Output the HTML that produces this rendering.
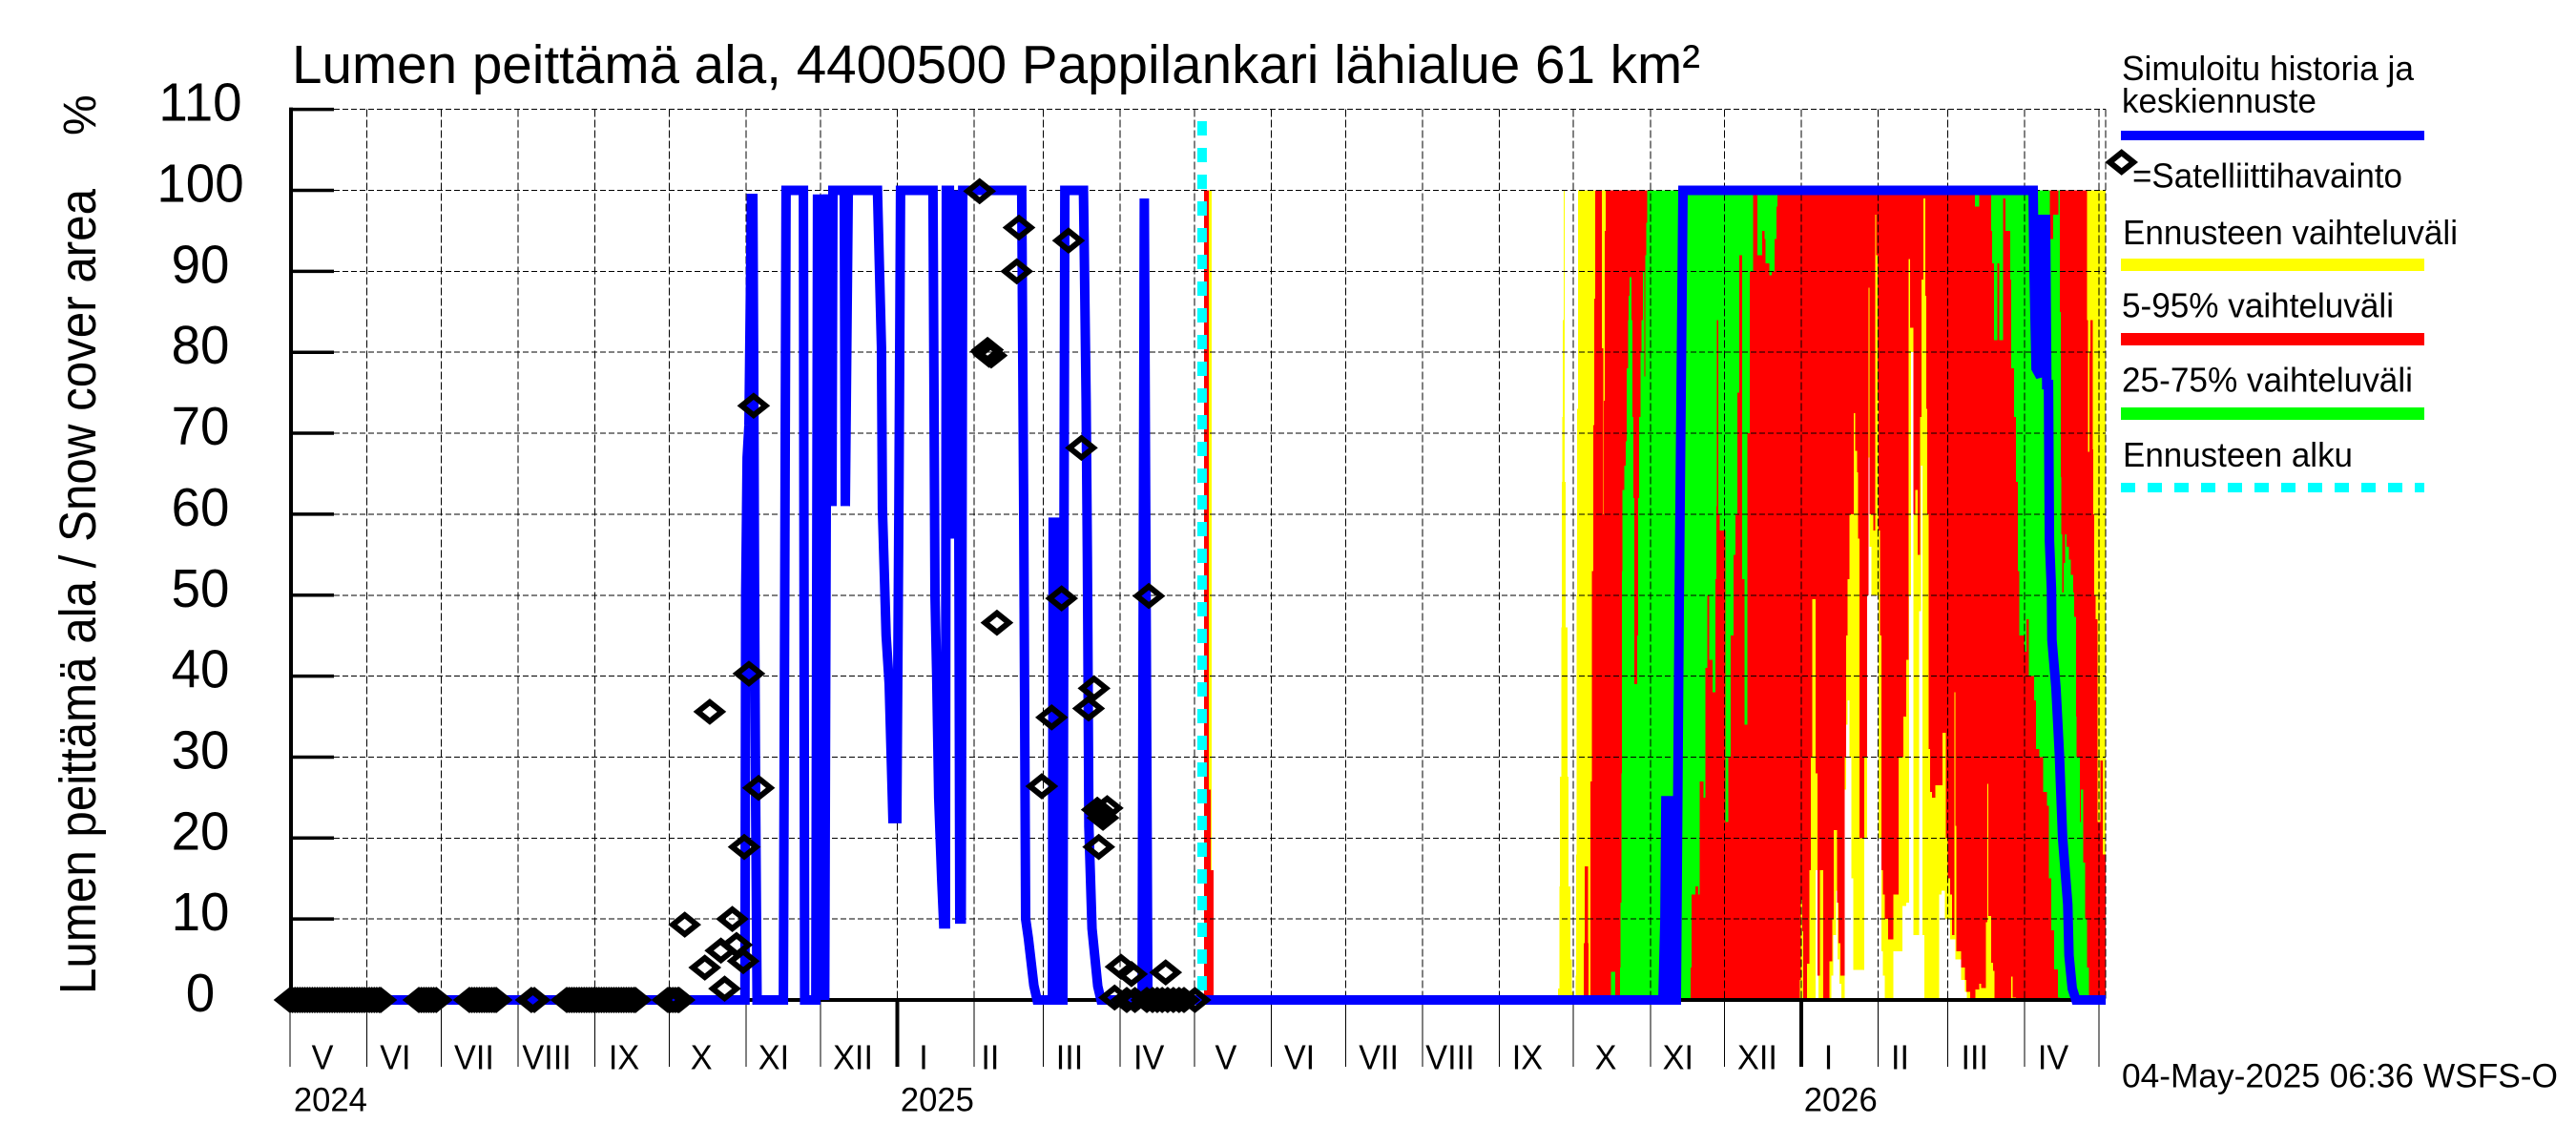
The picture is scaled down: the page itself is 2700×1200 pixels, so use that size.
<!DOCTYPE html>
<html>
<head>
<meta charset="utf-8">
<title>Lumen peittämä ala</title>
<style>
html,body{margin:0;padding:0;background:#fff}
svg{display:block}
text{font-family:"Liberation Sans",Arial,sans-serif;fill:#000}
</style>
</head>
<body>
<svg id="chart" xmlns="http://www.w3.org/2000/svg" width="2700" height="1200" viewBox="0 0 2700 1200">
<rect width="2700" height="1200" fill="#fff"/>
<g id="bands" shape-rendering="crispEdges"></g>
<g id="axes"></g>
<g id="series"></g>
<text x="306" y="87" font-size="57" textLength="1476" lengthAdjust="spacingAndGlyphs">Lumen peittämä ala, 4400500 Pappilankari lähialue 61 km²</text>
<text transform="translate(100,1042) rotate(-90)" font-size="54" textLength="844" lengthAdjust="spacingAndGlyphs">Lumen peittämä ala / Snow cover area</text>
<text transform="translate(100,142) rotate(-90)" font-size="48">%</text>
<g>
<text x="2224" y="84" font-size="36" textLength="306" lengthAdjust="spacingAndGlyphs">Simuloitu historia ja</text>
<text x="2224" y="118" font-size="36" textLength="204" lengthAdjust="spacingAndGlyphs">keskiennuste</text>
<rect x="2223" y="137" width="318" height="10" fill="#0000ff"/>
<polygon points="2223.7,160 2236.2,170 2223.7,180 2211.2,170" fill="none" stroke="#000" stroke-width="6"/>
<text x="2235" y="196.5" font-size="36" textLength="283" lengthAdjust="spacingAndGlyphs">=Satelliittihavainto</text>
<text x="2225" y="256" font-size="36" textLength="351" lengthAdjust="spacingAndGlyphs">Ennusteen vaihteluväli</text>
<rect x="2223" y="271" width="318" height="13" fill="#ffff00"/>
<text x="2224" y="332.5" font-size="36" textLength="285" lengthAdjust="spacingAndGlyphs">5-95% vaihteluväli</text>
<rect x="2223" y="349" width="318" height="13" fill="#ff0000"/>
<text x="2224" y="410.5" font-size="36" textLength="305" lengthAdjust="spacingAndGlyphs">25-75% vaihteluväli</text>
<rect x="2223" y="427" width="318" height="13" fill="#00ff00"/>
<text x="2225" y="489" font-size="36" textLength="241" lengthAdjust="spacingAndGlyphs">Ennusteen alku</text>
<line x1="2223" y1="511" x2="2541" y2="511" stroke="#00ffff" stroke-width="10" stroke-dasharray="15 13"/>
</g>
<text x="2224" y="1139.5" font-size="35.5" textLength="457" lengthAdjust="spacingAndGlyphs">04-May-2025 06:36 WSFS-O</text>
</svg>
<script>
// ---- axis data ----
const yTicks = [0,10,20,30,40,50,60,70,80,90,100,110];
const monthStartDays = [0,31,61,92,123,153,184,214,245,276,304,335,365,396,426,457,488,518,549,579,610,641,669,700,730];
const yearStartDays = [245,610];
const monthLabels = ["V","VI","VII","VIII","IX","X","XI","XII","I","II","III","IV","V","VI","VII","VIII","IX","X","XI","XII","I","II","III","IV"];
const monthLabelDays = [13.1,42.5,74.3,103.6,134.8,166,195.2,227.2,255.7,282.6,314.6,346.6,377.7,407.4,439.4,468.2,499.4,531,560.2,592.2,620.9,649.8,679.9,711.6];
const yearLabels = ["2024","2025","2026"];
const yearLabelDays = [1.5,246.4,611];
const forecastStartDay = 368.1;

// ---- simulated history and forecast mean ----
const meanDays = [0,183.6,183.9,184.5,185.2,186.2,186.8,187.1,187.5,187.9,188.5,199.1,200.2,207.2,207.7,212.2,212.9,213.5,214.1,214.7,215.3,215.8,216.4,216.8,217.6,217.9,218.7,219.1,223.7,224.1,225.3,237.1,238.7,239.1,240.6,241.8,243.3,244.9,245.7,246.4,259.5,260.3,261,261.8,263,263.8,264.5,264.9,266.1,267.6,269.5,270,270.3,270.9,271.5,295.3,296.1,296.9,298,300.2,301.5,307.7,308,308.8,309.6,311.9,312.7,320.2,320.5,321.3,321.8,322,322.4,323.7,326,327.3,343.9,344.8,346.2,553,554.1,554.9,555.3,557.2,557.6,559.5,560.7,562.2,703.5,703.9,704.7,706.5,706.5,708.5,709,709.7,709.9,710.1,710.9,711.1,712.7,714.1,715.4,717.5,718,719.3,720.8,732.8];
const meanValues = [0,0,50,67,71,99,99,80,50,25,0,0,100,100,0,0,99.5,0,99.5,0,99.5,0,61,99.5,61,99.5,61,100,100,61,100,100,80.6,60.7,45,39,22.4,22.4,60,100,100,50,40,25,15,9.4,9.4,100,100,57,100,50,10,10,100,100,60,10,7.6,1.8,0,0,59,59,0,0,100,100,94,74,54.8,45,21.4,8.8,1.7,0,0,99,0,0,0,10,24.6,24.6,0,0,50,100,100,90,78,77,96.4,96.4,76,76,65.4,56.7,50.8,44.5,38.6,30.4,20,11.8,5.5,1.4,0,0];

// ---- satellite observations ----
const zeroObsDays = [0,1,2,3,4,5,6,7,8,9,10,11,12,13,14,15,16,17,18,19,20,21,22,23,24,25,26,27,28,29,30,31,32,33,34,35,36,36.6,52,53,54,55,56,57,58,59,72.4,73.4,74.4,75.4,76.4,77.4,78.4,79.4,80.4,81.4,82.4,83.2,97.4,98.6,111.7,112.7,113.7,114.7,115.7,116.7,117.7,118.7,119.7,120.7,121.7,122.7,123.7,124.7,125.7,126.7,127.7,128.7,129.7,130.7,131.7,132.7,133.7,134.7,135.7,136.7,137.7,138.7,139.4,152.5,153.5,154.5,155.5,156.5,157];
const obsDays = [159.3,169.4,167.4,173.9,175.4,178.5,180.2,182.9,183.3,185.2,189.1,187.1,278.3,294.2,314.2,293.3,281,281.5,282.1,283,319.4,346.6,311.4,285.3,324.5,322.3,307.4,303.4,329.8,325.8,327.3,328.1,326.4,335.4,339.6,353.4,332.8,337.7,341,345.8,348.1,350,352,354.2,356.5,358.8,360.8,365.2];
const obsValues = [9.3,35.6,4,6.1,1.4,10,6.8,4.8,18.9,40.3,26.2,73.4,99.9,95.4,93.8,90,80.1,80.3,79.7,79.6,68.2,49.9,49.6,46.6,38.5,36,34.9,26.4,23.7,23.5,23.1,22.5,18.9,4.1,3.2,3.4,0.3,0,0,0,0,0,0,0,0,0,0,0];

// ---- forecast ranges: each value holds from its day until the next day ----
const hiYellowDays = [368.9,372,511.7,512.3,512.6,513,513.3,513.4,513.7,514,514.5,514.8,515.5,516,516.7,517.4,517.9,518.9,519,519.3,519.5,519.8];
const hiYellowValues = [100,0,1.4,14,27.6,46,64,72,84,100,64,46,27.6,14,5,1,0,3,18,50,73,100];
const loYellowDays = [0,615.7,616.9,622.1,622.8,624,624.6,625.3,626.1,627.5,628.1,628.7,629.4,630.2,630.9,635.3,636.5,637.1,637.4,638.3,641.2,642.3,642.9,643.7,647.1,650.8,652.3,653.5,654.2,655.2,657.5,658.2,658.9,659.7,665.6,666.6,667.8,670,672.2,674.4,675.9,676.8];
const loYellowValues = [0,16,0,3,8,13.5,5,2,0,26,34,37,30,15,3.7,20,50,67,56,50,20,6,3,0,6,11.6,12,50,80,8,48,66,8,0,13,13.5,10,7.5,5,2.5,1,0];
const hiRedDays = [368.9,370.8,371.6,372.7,522.1,522.6,523.8,524.1,524.8,525.5,526,526.4,526.7,529.4,530,530.2,530.7,531,725.2,725.6,726.2,726.6,727.5,727.8,728.2,728.8,729.5,730.6,731.6];
const hiRedValues = [100,26,16,0,7,16.5,7,0,27,53,71,86.6,100,80.5,60,74,95,100,84,67.7,80,84,68,60,50,47,22,29.6,18];
const loRedDays = [0,609.3,609.8,610.3,610.7,612.2,613.2,613.7,614.3,615.7,616.5,617.4,618.7,621.3,622.5,623.1,624.3,625,625.8,627.5,628.1,628.7,629.4,631.2,631.7,632.4,632.8,633.4,635.3,636.5,637.1,637.4,639,639.8,640.2,640.8,641.2,641.7,642.3,642.9,643.7,644.9,647.1,649.3,651.1,652.3,653.3,653.8,655.2,656,657,657.9,658.5,659.2,660,660.4,660.8,661.3,661.9,662.6,664.1,667,668.2,669,670,670.7,671.8,672.2,672.6,674.4,675.9,676.6,678.1,680.3,681.8,682.5,684.4,685,685.5,686.5,687.4,688,694.7,695.3,696.5];
const loRedValues = [0,2.5,12.4,8.5,0,4.5,16,30,49.5,28,3,16,0,4.8,10,21,12,7,3,30,45,52,60,72.5,67.8,65.2,57,20,30,50,88,60,58,97,92,74,58,45,16,13,10,7.5,13,30,35,42,91.5,83,60,63,55,72,89,99,87,73,60,31,25.7,25,26.5,33,20,15,13,8,38,21.5,6,4,2.5,1,0,1.3,2,1.5,9.6,26.7,10.4,4.6,3.6,0,2.9,0.3,0];
const hiGreenDays = [533.2,534.8,536.7,537,537.3,537.5,537.8,538.5,539.1,539.5,540,540.3,540.6,541.3,541.7,542.2,542.6,543.7,544,544.4,545,545.4,546,546.5,546.9,547.3,547.8,600.4,680,681.8,686.5,710.2,711.5,713.7,714.3,714.6,714.9,715.3,715.8,716.4,716.9,717.9,718.8,719.6,720.1,720.8,721.1,722.3,722.8,723.8,724.5,725.3,726];
const hiGreenValues = [3.5,0,4,12,28,53,63,66,69,78,84,87,89.3,84,72,62,39,45,62,72,80,84,90,77,92,96,100,0,100,0,100,94,97,100,85,64.6,57.5,50.3,54,57.5,56,54.4,52.5,50.3,47.3,35,30,22,26,17,10,4,0];
const loGreenDays = [0,565.3,565.6,566.8,567.2,568.3,569,570.5,571.2,572,572.7,574.2,575.2,575.6,575.9,576.4,577.1,579.3,580.5,581.5,582.6,583.3,584.2,584.9,586,587,588.2,589.2,590.4,592.2,594.1,595.1,595.5,597,598,599.2,600,600.4,680,681.8,686.5,686.9,687.7,689.1,689.9,691.4,692.4,694.3,694.7,695.8,696.5,697.3,698,699.8,700.9,701.7,703.9,704.6,706.1,707.6,709,709.8,710.8,712,713.5,714.2];
const loGreenValues = [0,4,13,13,14,13,27,25,41,50,42,38,52,61,84,60,58,22,30,45,55,60,75,92,52,34,70,90,100,92,95,94,91,89.5,90,94,98,100,98,100,95,91,81.5,91,81.5,99,95,89,78,72,64,53,45,43,47,40,37,31,30,25.7,24,15,8.6,3.8,0.3,0];
const forecastEndDay = 732.8;

// ---- axis functions ----
const SVGNS = "http://www.w3.org/2000/svg";
function xDay(d){ return 304 + 2.597 * d; }
function yVal(v){ return 1048 - 8.485 * v; }
const plotRight = 2207, plotTop = yVal(110), plotBottom = yVal(0), tickBottom = 1118;

function add(parent, tag){
  const el = document.createElementNS(SVGNS, tag);
  parent.appendChild(el);
  return el;
}
function setAll(el, pairs){
  for (const k in pairs) el.setAttribute(k, pairs[k]);
}
function stepAt(days, values, d){
  let v = 0;
  for (let i = 0; i < days.length; i++){
    if (days[i] <= d) v = values[i]; else break;
  }
  return v;
}

// ---- forecast bands ----
const bandsG = document.getElementById("bands");
const allBreaks = Array.from(new Set([].concat(hiYellowDays, loYellowDays, hiRedDays, loRedDays, hiGreenDays, loGreenDays, [forecastEndDay])))
  .filter(function(d){ return d >= 368.9 && d <= forecastEndDay; })
  .sort(function(a,b){ return a-b; });
function bandPath(loDays, loValues, hiDays, hiValues){
  let p = "";
  for (let i = 0; i < allBreaks.length - 1; i++){
    const lo = stepAt(loDays, loValues, allBreaks[i]);
    const hi = stepAt(hiDays, hiValues, allBreaks[i]);
    if (hi > lo){
      p += "M" + xDay(allBreaks[i]).toFixed(1) + " " + yVal(hi).toFixed(1) +
           "H" + xDay(allBreaks[i+1]).toFixed(1) + "V" + yVal(lo).toFixed(1) +
           "H" + xDay(allBreaks[i]).toFixed(1) + "Z";
    }
  }
  return p;
}
const yellowBand = add(bandsG, "path");


setAll(yellowBand, {d: bandPath(loYellowDays, loYellowValues, hiYellowDays, hiYellowValues), fill: "#ffff00"});
const redBand = add(bandsG, "path");


setAll(redBand, {d: bandPath(loRedDays, loRedValues, hiRedDays, hiRedValues), fill: "#ff0000"});
const greenBand = add(bandsG, "path");


setAll(greenBand, {d: bandPath(loGreenDays, loGreenValues, hiGreenDays, hiGreenValues), fill: "#00ff00"});

// ---- axes and grid ----
const axesG = document.getElementById("axes");
yTicks.forEach(function(t){
  if (t > 0){
    const grid = add(axesG, "line");
    
    
    setAll(grid, {x1: 350, x2: plotRight, y1: yVal(t), y2: yVal(t), stroke: "#000", "stroke-width": 1, "stroke-dasharray": "6 3", "shape-rendering": "crispEdges"});
    const tick = add(axesG, "line");
    
    
    setAll(tick, {x1: 304, x2: 350, y1: yVal(t), y2: yVal(t), stroke: "#000", "stroke-width": 3.5});
  }
  const lab = add(axesG, "text");
  
  
  setAll(lab, {transform: "translate(210," + (yVal(t) + 12) + ") scale(0.96,1)", "font-size": 57, "text-anchor": "middle"});
  lab.textContent = String(t);
});
monthStartDays.forEach(function(d){
  if (d > 0){
    const grid = add(axesG, "line");
    
    
    setAll(grid, {x1: xDay(d), x2: xDay(d), y1: plotTop, y2: plotBottom, stroke: "#000", "stroke-width": 1, "stroke-dasharray": "8 3", "shape-rendering": "crispEdges"});
  }
  const tick = add(axesG, "line");
  
  
  setAll(tick, {x1: xDay(d), x2: xDay(d), y1: plotBottom, y2: tickBottom, stroke: "#000", "stroke-width": yearStartDays.indexOf(d) >= 0 ? 4 : 1, "shape-rendering": "crispEdges"});
});
const rightBorder = add(axesG, "line");


setAll(rightBorder, {x1: plotRight, x2: plotRight, y1: plotTop, y2: plotBottom, stroke: "#000", "stroke-width": 1, "stroke-dasharray": "8 3", "shape-rendering": "crispEdges"});
const xAxisLine = add(axesG, "line");


setAll(xAxisLine, {x1: 304, x2: plotRight, y1: plotBottom, y2: plotBottom, stroke: "#000", "stroke-width": 4});
const yAxisLine = add(axesG, "line");


setAll(yAxisLine, {x1: 305, x2: 305, y1: plotTop - 2, y2: plotBottom + 2, stroke: "#000", "stroke-width": 4});
monthLabels.forEach(function(m, i){
  const lab = add(axesG, "text");
  
  
  setAll(lab, {transform: "translate(" + xDay(monthLabelDays[i]) + ",1120.5) scale(0.95,1)", "font-size": 36, "text-anchor": "middle"});
  lab.textContent = m;
});
yearLabels.forEach(function(y, i){
  const lab = add(axesG, "text");
  
  
  setAll(lab, {x: xDay(yearLabelDays[i]), y: 1164.5, "font-size": 35, textLength: 77, lengthAdjust: "spacingAndGlyphs"});
  lab.textContent = y;
});

// ---- series ----
const seriesG = document.getElementById("series");
const meanLine = add(seriesG, "polyline");


setAll(meanLine, {
  points: meanDays.map(function(d,i){ return xDay(d).toFixed(1) + "," + yVal(meanValues[i]).toFixed(1); }).join(" "),
  fill: "none", stroke: "#0000ff", "stroke-width": 10, "stroke-linejoin": "miter", "stroke-miterlimit": 1.5
});
const startLine = add(seriesG, "line");


setAll(startLine, {x1: xDay(forecastStartDay), x2: xDay(forecastStartDay), y1: 127, y2: plotBottom - 3, stroke: "#00ffff", "stroke-width": 10, "stroke-dasharray": "15 13"});
function diamondPoints(cx, cy){
  return cx + "," + (cy - 10) + " " + (cx + 12.5) + "," + cy + " " + cx + "," + (cy + 10) + " " + (cx - 12.5) + "," + cy;
}
zeroObsDays.forEach(function(d){
  const z = add(seriesG, "polygon");
  
  
  setAll(z, {points: diamondPoints(xDay(d), yVal(0)), fill: "none", stroke: "#000", "stroke-width": 6});
});
obsDays.forEach(function(d, i){
  const m = add(seriesG, "polygon");
  
  
  setAll(m, {points: diamondPoints(xDay(d), yVal(obsValues[i])), fill: "none", stroke: "#000", "stroke-width": 6});
});
</script>
</body>
</html>
